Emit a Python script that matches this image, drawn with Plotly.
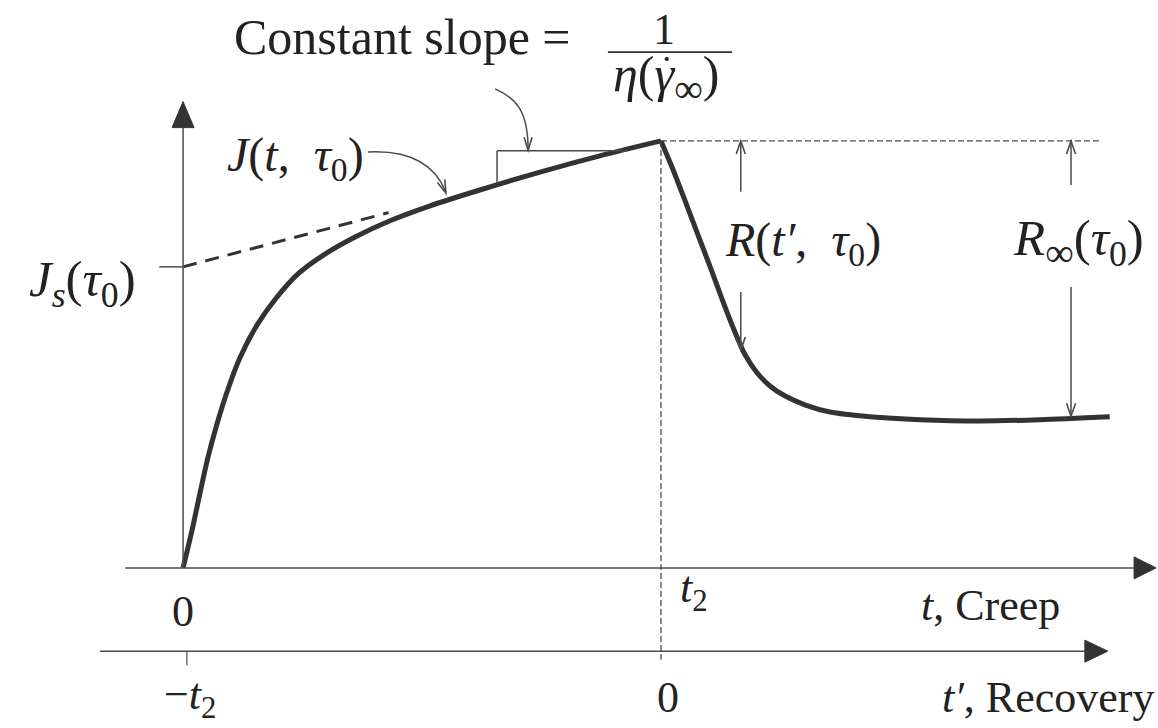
import math
import plotly.graph_objects as go

# ---- creep / recovery data (t in units where t2 = 10, J in units where peak = 10) ----
T2 = 10.0
creep_t = [0.0, 0.19, 0.36, 0.52, 0.71, 0.92, 1.19, 1.55, 1.95, 2.41, 2.97, 3.60,
           4.33, 5.17, 6.21, 7.47, 8.72, 10.0]
creep_J = [0.0, 0.89, 1.78, 2.58, 3.37, 4.12, 4.92, 5.69, 6.32, 6.89, 7.35, 7.75,
           8.13, 8.48, 8.85, 9.27, 9.65, 10.0]

# recovery measured in t' = t - t2
recov_tp = [0.0, 0.23, 0.48, 0.75, 1.03, 1.30, 1.53, 1.76, 2.01, 2.28, 2.59, 3.01,
            3.54, 4.37, 5.42, 6.67, 7.93, 9.39]
recov_J = [10.0, 9.39, 8.67, 7.87, 7.05, 6.23, 5.57, 4.99, 4.57, 4.26, 4.03, 3.82,
           3.65, 3.54, 3.47, 3.44, 3.47, 3.54]

J_S = 7.05          # steady-state compliance intercept
J_PEAK = 10.0       # compliance at t2
J_TANGENT_END = 8.32
T_TANGENT_END = 4.3

# positions of the annotation arrows
T_R = 11.67         # R(t', tau0) arrow
J_R_CURVE = 5.10
T_RINF = 18.58      # R_inf(tau0) arrow
J_RINF_CURVE = 3.55

# ---- canvas ----
W, H = 1158, 728
X_RANGE = [-3.83, 20.40]
Y_RANGE = [-3.75, 13.30]
PX_X = W / (X_RANGE[1] - X_RANGE[0])
PX_Y = H / (Y_RANGE[1] - Y_RANGE[0])

J_REC_AXIS = -1.95  # height of the recovery time axis

INK = "#333333"
THIN = "#4a4a4a"
FONT = "'Liberation Serif', 'Times New Roman', Times, serif"
FS = 44

fig = go.Figure()

curve_line = dict(color=INK, width=5, shape="spline", smoothing=0.8)
fig.add_trace(go.Scatter(x=creep_t, y=creep_J, mode="lines",
                         line=curve_line, hoverinfo="skip"))
fig.add_trace(go.Scatter(x=[T2 + v for v in recov_tp], y=recov_J, mode="lines",
                         line=curve_line, hoverinfo="skip"))
# tangent extrapolation back to J_s
fig.add_trace(go.Scatter(x=[0.0, T_TANGENT_END], y=[J_S, J_TANGENT_END], mode="lines",
                         line=dict(color=INK, width=3, dash="14px,9px"),
                         hoverinfo="skip"))

shapes = []


def line(x0, y0, x1, y1, width=1.5, color=THIN, dash=None):
    d = dict(type="line", x0=x0, y0=y0, x1=x1, y1=y1, xref="x", yref="y",
             line=dict(color=color, width=width))
    if dash:
        d["line"]["dash"] = dash
    shapes.append(d)


def head_points(tx, ty, dx, dy, length, half):
    """Arrowhead arms for a tip at (tx, ty); (dx, dy) is the screen direction (y down)."""
    n = math.hypot(dx, dy)
    dx, dy = dx / n, dy / n
    bx, by = -length * dx, -length * dy
    px_, py_ = -dy * half, dx * half
    a1 = (tx + (bx + px_) / PX_X, ty - (by + py_) / PX_Y)
    a2 = (tx + (bx - px_) / PX_X, ty - (by - py_) / PX_Y)
    return a1, a2


def open_head(tx, ty, dx, dy, length=13, half=4.5, width=1.6):
    a1, a2 = head_points(tx, ty, dx, dy, length, half)
    shapes.append(dict(type="path", xref="x", yref="y",
                       path=f"M{a1[0]},{a1[1]} L{tx},{ty} L{a2[0]},{a2[1]}",
                       line=dict(color=THIN, width=width)))


def solid_head(tx, ty, dx, dy, length=24, half=11):
    a1, a2 = head_points(tx, ty, dx, dy, length, half)
    shapes.append(dict(type="path", xref="x", yref="y",
                       path=f"M{a1[0]},{a1[1]} L{tx},{ty} L{a2[0]},{a2[1]} Z",
                       fillcolor=INK, line=dict(color=INK, width=1)))


# J axis (vertical)
J_AXIS_TIP = 10.92
line(0, 0, 0, J_AXIS_TIP - 20 / PX_Y)
solid_head(0, J_AXIS_TIP, 0, -1, length=26, half=11)

# creep time axis
T_CREEP_TIP = 20.36
line(-1.21, 0, T_CREEP_TIP - 18 / PX_X, 0)
solid_head(T_CREEP_TIP, 0, 1, 0, length=22, half=11)

# recovery time axis
T_REC_TIP = 19.35
line(-1.74, J_REC_AXIS, T_REC_TIP - 18 / PX_X, J_REC_AXIS)
solid_head(T_REC_TIP, J_REC_AXIS, 1, 0, length=23, half=11)
line(0.08, J_REC_AXIS, 0.08, J_REC_AXIS - 14 / PX_Y, width=1.2)

# J_s tick on the compliance axis
line(-0.5, J_S, 0, J_S, width=1.5)

# t2 vertical and peak-level horizontal guides
line(T2, J_PEAK, T2, -2.15, width=1.3, dash="6px,3px")
line(T2, J_PEAK, 19.18, J_PEAK, width=1.3, dash="6px,3px")

# slope triangle
T_BR, J_BR = 6.57, 9.77
line(T_BR, J_BR, 9.3, J_BR, width=1.5)
line(T_BR, J_BR, T_BR, 9.02, width=1.5)

# curved arrow from the slope caption down to the bracket
shapes.append(dict(type="path", xref="x", yref="y",
                   path="M6.53,11.22 C6.95,11.01 7.22,10.73 7.22,9.80",
                   line=dict(color=THIN, width=1.5)))
open_head(7.22, 9.78, 0, 1, length=13, half=4)

# curved arrow from J(t, tau0) to the curve
shapes.append(dict(type="path", xref="x", yref="y",
                   path="M3.87,9.74 C4.75,9.79 5.27,9.44 5.50,8.80",
                   line=dict(color=THIN, width=1.5)))
open_head(5.50, 8.78, 12, 30, length=13, half=4)

# R(t', tau0) arrows
line(T_R, 8.81, T_R, J_PEAK - 2 / PX_Y)
open_head(T_R, J_PEAK, 0, -1)
line(T_R, 6.46, T_R, J_R_CURVE + 2 / PX_Y)
open_head(T_R, J_R_CURVE, 0, 1)

# R_inf(tau0) arrows
line(T_RINF, 8.97, T_RINF, J_PEAK - 2 / PX_Y)
open_head(T_RINF, J_PEAK, 0, -1)
line(T_RINF, 6.58, T_RINF, J_RINF_CURVE + 2 / PX_Y)
open_head(T_RINF, J_RINF_CURVE, 0, 1)

# fraction bar of 1 / eta
line(8.89, 12.08, 11.49, 12.08, width=1.6, color=INK)

fig.update_layout(shapes=shapes)


def label(x, y, text, xanchor="center", size=FS):
    fig.add_annotation(x=x, y=y, xref="x", yref="y", text=text, showarrow=False,
                       xanchor=xanchor, yanchor="middle",
                       font=dict(family=FONT, size=size, color="#222222"))


BIG_INF = "<span style='font-size:40px'>∞</span>"
NB = "\u00a0"

label(1.03, 12.44, "Constant slope =", xanchor="left", size=50)
label(10.06, 12.60, "1", size=44)
label(10.10, 11.46, f"<i>η</i>(<i>γ</i><sub>{BIG_INF}</sub>)", size=50)
# rate dot over gamma
label(10.12, 11.93, "·", size=34)
label(3.83, 9.60, f"<i>J</i>(<i>t</i>,{NB}{NB}<i>τ</i><sub>0</sub>)", xanchor="right", size=48)
label(-0.94, 6.67, "<i>J<sub>s</sub></i>(<i>τ</i><sub>0</sub>)", xanchor="right", size=51)
label(12.97, 7.61, f"<i>R</i>(<i>t′</i>,{NB}{NB}<i>τ</i><sub>0</sub>)", size=48)
label(18.74, 7.61, f"<i>R</i><sub>{BIG_INF}</sub>(<i>τ</i><sub>0</sub>)", size=51)
label(0.0, -1.03, "0")
label(10.36, -0.52, "<i>t</i><sub>2</sub>", xanchor="left")
label(15.40, -0.87, "<i>t</i>, Creep", xanchor="left")
label(0.15, -3.04, "−<i>t</i><sub>2</sub>")
label(10.15, -3.04, "0")
label(20.36, -3.04, "<i>t′</i>, Recovery", xanchor="right")

fig.update_layout(
    width=W, height=H,
    margin=dict(l=0, r=0, t=0, b=0),
    paper_bgcolor="white", plot_bgcolor="white",
    showlegend=False,
    xaxis=dict(range=X_RANGE, visible=False, fixedrange=True),
    yaxis=dict(range=Y_RANGE, visible=False, fixedrange=True),
)

fig.write_html("out.html")
